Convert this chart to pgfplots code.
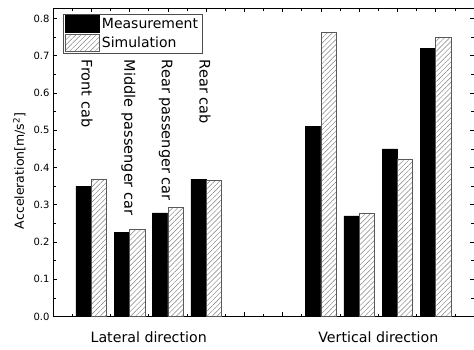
\documentclass[border=0pt]{standalone}
\usepackage{fontspec}
\setmainfont{DejaVu Sans}
\usepackage{pgfplots}
\pgfplotsset{compat=1.18}
\usetikzlibrary{patterns.meta}
\pgfplotsset{boxlegend/.style={legend image code/.code={\draw[##1] (0pt,-8.5pt) rectangle (34pt,8.5pt);}}}
\begin{document}
\begin{tikzpicture}
\begin{axis}[
  scale only axis,
  width=421pt, height=308.5pt,
  xmin=0, xmax=11, ymin=0, ymax=0.828,
  clip=false,
  xtick={1,...,10}, xticklabels={},
  minor xtick={0.5,1.5,...,10.5},
  ytick={0,0.1,...,0.8},
  minor y tick num=1,
  tick align=inside,
  major tick length=4.5pt, minor tick length=2.8pt,
  tick style={black, line width=0.6pt},
  axis line style={line width=0.9pt},
  yticklabel style={/pgf/number format/fixed, /pgf/number format/fixed zerofill, /pgf/number format/precision=1, font=\fontsize{10}{12}\selectfont},
  /pgf/number format/assume math mode=true,
  legend style={at={(0.024,0.98)}, anchor=north west, draw=gray!60!black, line width=0.5pt, inner xsep=2pt, inner ysep=1pt, row sep=1.5pt, font=\fontsize{14}{16}\selectfont},
  legend cell align=left,
]
\addplot[ybar, bar width=0.4, bar shift=-0.2, fill=black, draw=black, boxlegend]
  coordinates {(1,0.350) (2,0.225) (3,0.278) (4,0.369) (7,0.510) (8,0.270) (9,0.450) (10,0.720)};
\addlegendentry{Measurement}
\addplot[ybar, bar width=0.4, bar shift=0.2, fill=white, draw=gray!70!black, line width=0.6pt,
  postaction={pattern={Lines[angle=45,distance=3.6pt,line width=0.45pt]}, pattern color=gray},
  boxlegend]
  coordinates {(1,0.368) (2,0.234) (3,0.293) (4,0.366) (7,0.762) (8,0.277) (9,0.423) (10,0.748)};
\addlegendentry{Simulation}
\begin{scope}[every node/.style={rotate=-90, anchor=west, inner sep=0pt, text height=10.5pt, text depth=0pt, font=\fontsize{14.5}{16}\selectfont}]
\node at (axis cs:0.888,0.689) {Front cab};
\node at (axis cs:2.0,0.689) {Middle passenger car};
\node at (axis cs:2.98,0.689) {Rear passenger car};
\node at (axis cs:3.97,0.689) {Rear cab};
\end{scope}
\node[anchor=base, yshift=-26.5pt, font=\fontsize{14.2}{16}\selectfont] at (axis cs:2.5,0) {Lateral direction};
\node[anchor=base, yshift=-26.5pt, font=\fontsize{14.2}{16}\selectfont] at (axis cs:8.5,0) {Vertical direction};
\path (rel axis cs:0,0.472) ++(-29pt,0pt) node[rotate=90, anchor=base, font=\fontsize{12.5}{14}\selectfont] {Acceleration[m/s\textsuperscript{2}]};
\coordinate (ll) at (rel axis cs:0,0);
\end{axis}
\pgfresetboundingbox
\path ([shift={(-53pt,-33.5pt)}]ll) rectangle ++(474pt,350pt);
\end{tikzpicture}
\end{document}
